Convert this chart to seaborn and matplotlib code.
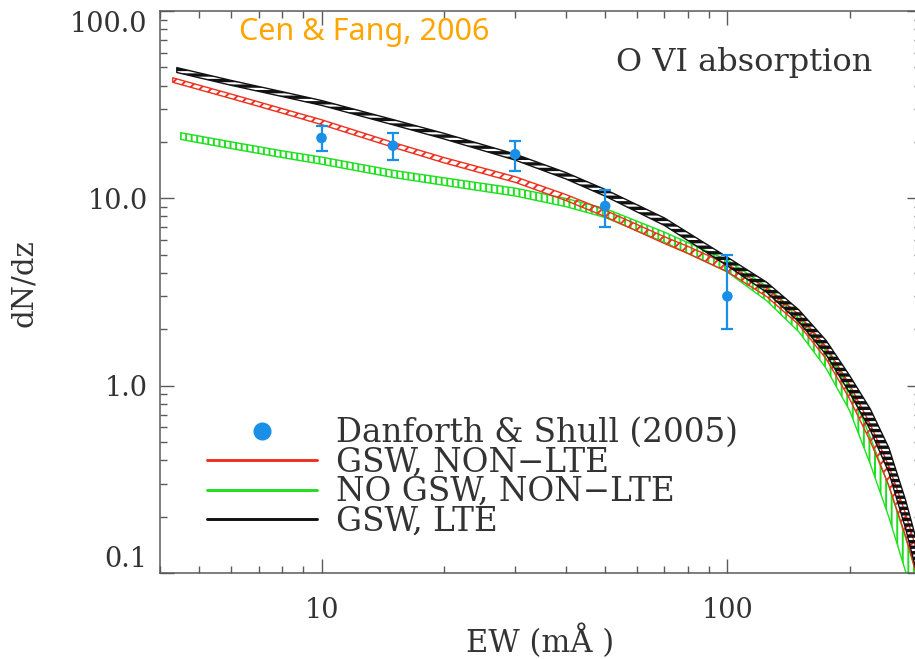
import numpy as np
import matplotlib
matplotlib.use("Agg")
import matplotlib.pyplot as plt
import seaborn as sns
from matplotlib.lines import Line2D
from matplotlib.ticker import NullFormatter, FixedLocator, LogLocator

# ---------------- data ----------------
ew_points = [10, 15, 30, 50, 100]
dndz_points = [21.0, 19.1, 17.2, 9.1, 3.0]
dndz_points_hi = [24.2, 22.2, 20.2, 11.1, 5.0]
dndz_points_lo = [18.0, 16.0, 14.0, 7.0, 2.0]

ew_black = [4.4, 6, 8, 10, 15, 20, 30, 40, 50, 70, 100, 125, 150, 175, 200, 225, 250, 275, 300]
dndz_black = [48.4, 41.3, 36.0, 32.3, 25.5, 21.5, 16.6, 13.2, 10.7, 7.5, 4.6, 3.35, 2.36, 1.6, 1.02, 0.66, 0.40, 0.205, 0.10]
hw_black = [0.013, 0.013, 0.013, 0.013, 0.014, 0.015, 0.016, 0.017, 0.018, 0.020, 0.023, 0.027, 0.032, 0.038, 0.046, 0.056, 0.066, 0.076, 0.086]

ew_red = [4.3, 6, 8, 10, 15, 20, 30, 40, 50, 70, 80, 100, 125, 150, 175, 200, 225, 250, 275, 300]
dndz_red = [42.8, 35.0, 29.3, 25.5, 19.3, 16.0, 12.6, 10.1, 8.3, 5.98, 5.3, 4.25, 3.15, 2.25, 1.5, 0.93, 0.56, 0.33, 0.18, 0.095]
hw_red = [0.012, 0.012, 0.012, 0.013, 0.013, 0.014, 0.015, 0.016, 0.017, 0.018, 0.019, 0.020, 0.023, 0.027, 0.032, 0.038, 0.045, 0.052, 0.060, 0.068]

ew_green = [4.5, 6, 8, 10, 15, 20, 30, 40, 50, 70, 100, 125, 150, 175, 200, 225, 250, 275, 300]
dndz_green = [21.5, 19.2, 17.2, 15.9, 13.5, 12.3, 10.8, 9.5, 8.35, 6.2, 4.35, 3.1, 2.15, 1.4, 0.85, 0.45, 0.24, 0.125, 0.065]
hw_green = [0.018, 0.018, 0.018, 0.019, 0.019, 0.020, 0.021, 0.022, 0.024, 0.027, 0.032, 0.038, 0.045, 0.053, 0.062, 0.072, 0.082, 0.090, 0.100]

legend_labels = ["Danforth & Shull (2005)", "GSW, NON\u2212LTE", "NO GSW, NON\u2212LTE", "GSW, LTE"]
y_ticks = [0.1, 1, 10, 100]
y_ticklabels = ["0.1", "1.0", "10.0", "100.0"]
x_ticks = [10, 100]
x_ticklabels = ["10", "100"]

# ---------------- style ----------------
sns.set_theme(style="ticks")
plt.rcParams["font.family"] = ["DejaVu Serif"]
plt.rcParams["hatch.linewidth"] = 1.2
plt.rcParams["axes.linewidth"] = 1.1

TXT = "#333333"
AX = "#5a5a5a"
BLUE = "#1a8fe8"
RED = "#f0301e"
GREEN = "#1ee01e"
BLACK = "#111111"

fig = plt.figure(figsize=(9.15, 6.59), dpi=100)
ax = fig.add_axes([160 / 915, 86 / 659, 761 / 915, 562 / 659])
ax.set_xscale("log")
ax.set_yscale("log")
ax.set_xlim(4, 300)
ax.set_ylim(0.1, 100)


def band(ax, ew, val, hw, color, hatch, hlw, z):
    ew = np.asarray(ew, float)
    val = np.asarray(val, float)
    hw = np.asarray(hw, float)
    lo = val * 10 ** (-hw)
    hi = val * 10 ** (hw)
    coll = ax.fill_between(ew, lo, hi, facecolor="none", edgecolor=color,
                           hatch=hatch, linewidth=1.0, zorder=z)
    try:
        coll.set_hatch_linewidth(hlw)
    except Exception:
        pass
    return coll


band(ax, ew_green, dndz_green, hw_green, GREEN, "|||", 1.4, 2)
band(ax, ew_red, dndz_red, hw_red, RED, "///", 1.4, 3)
band(ax, ew_black, dndz_black, hw_black, BLACK, "---", 2.4, 4)

# data points with error bars
pts = np.asarray(dndz_points)
yerr = [pts - np.asarray(dndz_points_lo), np.asarray(dndz_points_hi) - pts]
ax.errorbar(ew_points, dndz_points, yerr=yerr, fmt="none", ecolor=BLUE,
            elinewidth=1.6, capsize=4, capthick=1.6, zorder=5)
sns.scatterplot(x=ew_points, y=dndz_points, ax=ax, color=BLUE, s=58,
                edgecolor="none", zorder=6, legend=False)

# ticks
ax.yaxis.set_major_locator(FixedLocator(y_ticks))
ax.set_yticklabels(y_ticklabels)
ax.yaxis.set_minor_locator(LogLocator(base=10, subs=np.arange(2, 10)))
ax.yaxis.set_minor_formatter(NullFormatter())
ax.xaxis.set_major_locator(FixedLocator(x_ticks))
ax.set_xticklabels(x_ticklabels)
ax.xaxis.set_minor_locator(LogLocator(base=10, subs=np.arange(2, 10)))
ax.xaxis.set_minor_formatter(NullFormatter())

ax.tick_params(which="both", direction="in", top=True, right=True,
               color=AX, labelcolor=TXT)
ax.tick_params(which="major", length=10, width=1.0, labelsize=19.5)
ax.tick_params(which="minor", length=5, width=1.0)
ax.tick_params(axis="x", which="major", pad=17)
ax.tick_params(axis="y", which="major", pad=9)
for s in ax.spines.values():
    s.set_color(AX)

ylabs = ax.get_yticklabels()
ylabs[0].set_va("bottom")
ylabs[-1].set_va("top")

ax.set_xlabel("EW (m\u00c5 )", fontsize=22, color=TXT)
ax.xaxis.set_label_coords(0.5, -0.092)
ax.set_ylabel("dN/dz", fontsize=21, color=TXT)
ax.yaxis.set_label_coords(-0.160, 0.516)

ax.text(0.767, 0.909, "O VI absorption", transform=ax.transAxes,
        ha="center", va="center", fontsize=23, color=TXT)
ax.text(0.268, 0.963, "Cen & Fang, 2006", transform=ax.transAxes,
        ha="center", va="center", fontsize=22, color="#ffa500",
        family=["Noto Sans", "DejaVu Sans"])

handles = [
    Line2D([], [], ls="none", marker="o", color=BLUE, markersize=12),
    Line2D([], [], color=RED, lw=2.1),
    Line2D([], [], color=GREEN, lw=2.1),
    Line2D([], [], color=BLACK, lw=2.1),
]
leg = ax.legend(handles, legend_labels, loc="upper left",
                bbox_to_anchor=((207 - 160) / 761, (573 - 417) / 562),
                frameon=False, fontsize=23.5, handlelength=3.37,
                handletextpad=0.58, labelspacing=-0.077, borderpad=0,
                borderaxespad=0)
for t in leg.get_texts():
    t.set_color(TXT)

fig.savefig("out.png", dpi=100)
